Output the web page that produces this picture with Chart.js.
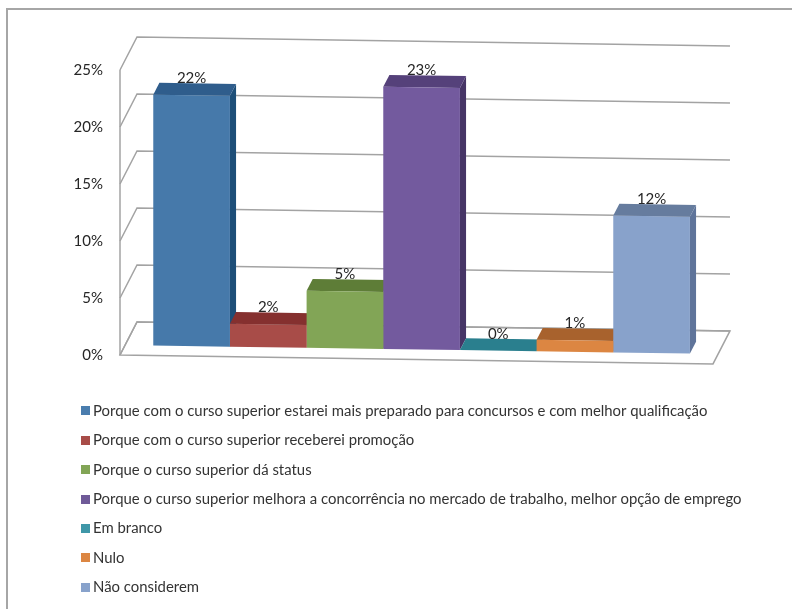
<!DOCTYPE html>
<html>
<head>
<meta charset="utf-8">
<script src="https://cdn.jsdelivr.net/npm/chart.js@4"></script>
<style>
  html, body { margin: 0; padding: 0; background: #fff; }
  #wrap { width: 792px; height: 609px; }
</style>
</head>
<body>
<div id="wrap"><canvas id="chart"></canvas></div>
<script>
// Valeurs
const categories = ['Motivo'];
const seriesNames = [
  'Porque com o curso superior estarei mais preparado para concursos e com melhor qualificação',
  'Porque com o curso superior receberei promoção',
  'Porque o curso superior dá status',
  'Porque o curso superior melhora a concorrência no mercado de trabalho, melhor opção de emprego',
  'Em branco',
  'Nulo',
  'Não considerem',
];
const seriesValues = [22, 2, 5, 23, 0, 1, 12];
const tickMax = 25;
const tickStep = 5;

const frontColors = ['#4679aa', '#a84c48', '#82a556', '#735a9e', '#2f8496', '#dc8642', '#88a2cb'];
const topColors   = ['#2f5d8c', '#85302f', '#5e7d37', '#55417a', '#2a7f8e', '#a8622d', '#667c9e'];
const sideColors  = ['#1d4e78', '#7a2c2a', '#55712f', '#463566', '#236e7c', '#965726', '#5f749a'];
const legendColors = ['#4a7dae', '#a84c48', '#82a556', '#6f5a98', '#3f97a8', '#dc8642', '#88a2cb'];

// Projection du faux 3D
const SLOPE = 0.015;
const DEPTH_X = 17, DEPTH_Y = -33;
const BAR_T = 0.3, BAR_DEPTH = 0.36;
const WALL = '#a3a3a3';

function project(area, x, y, t) {
  return [x + t * DEPTH_X, y + SLOPE * (x - area.left) + t * DEPTH_Y];
}

function poly(ctx, pts, fill) {
  ctx.beginPath();
  pts.forEach((p, i) => (i ? ctx.lineTo(p[0], p[1]) : ctx.moveTo(p[0], p[1])));
  ctx.closePath();
  ctx.fillStyle = fill;
  ctx.fill();
}

// Carré de légende : boxWidth quasi nul pour coller le texte comme sur l'original
function swatch(color) {
  const c = document.createElement('canvas');
  c.width = 9; c.height = 9;
  const g = c.getContext('2d');
  g.fillStyle = color;
  g.fillRect(0, 0, 9, 9);
  return c;
}

const walls3d = {
  id: 'walls3d',
  afterLayout(chart) {
    // la légende est posée sous le graphique, en colonne
    const lg = chart.legend;
    lg.left = 71; lg.right = 792;
    lg.top = 389; lg.bottom = 700;
    lg.adjustHitBoxes();
  },
  beforeDraw(chart) {
    const ctx = chart.ctx;
    ctx.save();
    ctx.strokeStyle = '#a6a6a6';
    ctx.lineWidth = 2;
    ctx.beginPath();
    ctx.moveTo(7, 609);
    ctx.lineTo(7, 9);
    ctx.lineTo(792, 9);
    ctx.stroke();
    ctx.restore();
  },
  beforeDatasetsDraw(chart) {
    const { ctx, chartArea: area, scales: { y } } = chart;
    ctx.save();
    ctx.lineWidth = 1.5;
    ctx.strokeStyle = WALL;
    const l = area.left, r = area.right;

    // plancher
    const y0 = y.getPixelForValue(0);
    ctx.beginPath();
    [[l, y0, 0], [l, y0, 1], [r, y0, 1], [r, y0, 0]].forEach((p, i) => {
      const q = project(area, p[0], p[1], p[2]);
      if (i) ctx.lineTo(q[0], q[1]); else ctx.moveTo(q[0], q[1]);
    });
    ctx.closePath();
    ctx.stroke();

    // montant gauche et graduations
    const yTop = y.getPixelForValue(tickMax);
    ctx.beginPath();
    ctx.moveTo(l, y0);
    ctx.lineTo(l, yTop);
    ctx.stroke();
    y.ticks.forEach((tick) => {
      const py = y.getPixelForValue(tick.value);
      const a = project(area, l, py, 1);
      const b = project(area, r, py, 1);
      ctx.beginPath();
      ctx.moveTo(l, py);
      ctx.lineTo(a[0], a[1]);
      ctx.lineTo(b[0], b[1]);
      ctx.stroke();
    });

    // faces du dessus et de côté, de gauche à droite
    const t0 = BAR_T, t1 = BAR_T + BAR_DEPTH;
    seriesValues.forEach((v, i) => {
      const bar = chart.getDatasetMeta(i).data[0];
      const x1 = bar.x - bar.width / 2, x2 = bar.x + bar.width / 2;
      const base = bar.base, py = bar.y;
      poly(ctx, [project(area, x2, py, t0), project(area, x2, py, t1), project(area, x2, base, t1), project(area, x2, base, t0)], sideColors[i]);
      poly(ctx, [project(area, x1, py, t0), project(area, x1, py, t1), project(area, x2, py, t1), project(area, x2, py, t0)], topColors[i]);
    });
    ctx.restore();

    // les faces avant sont dessinées par Chart.js dans le plan incliné
    ctx.save();
    ctx.transform(1, SLOPE, 0, 1, BAR_T * DEPTH_X, BAR_T * DEPTH_Y - SLOPE * area.left);
  },
  afterDatasetsDraw(chart) {
    const { ctx, chartArea: area } = chart;
    ctx.restore();
    ctx.save();
    ctx.font = '15px Lato';
    ctx.fillStyle = '#262626';
    ctx.textAlign = 'center';
    ctx.textBaseline = 'middle';
    seriesValues.forEach((v, i) => {
      const bar = chart.getDatasetMeta(i).data[0];
      const p = project(area, bar.x, bar.y, BAR_T);
      ctx.fillText(v + '%', p[0], p[1] - 17);
    });
    ctx.restore();
  },
};

new Chart(document.getElementById('chart'), {
  type: 'bar',
  data: {
    labels: categories,
    datasets: seriesNames.map((name, i) => ({
      label: name,
      data: [seriesValues[i]],
      backgroundColor: frontColors[i],
      borderWidth: 0,
      clip: false,
    })),
  },
  options: {
    responsive: true,
    maintainAspectRatio: false,
    animation: false,
    categoryPercentage: 0.905,
    barPercentage: 1,
    layout: { padding: { top: 70, bottom: 254, right: 79, left: 0 } },
    scales: {
      x: { display: false },
      y: {
        min: 0,
        max: tickMax,
        afterFit(scale) { scale.width = 120; },
        grid: { display: false, drawTicks: false },
        border: { display: false },
        ticks: {
          stepSize: tickStep,
          padding: 17,
          color: '#262626',
          font: { family: 'Lato', size: 15 },
          callback: (v) => v + '%',
        },
      },
    },
    plugins: {
      tooltip: { enabled: false },
      legend: {
        position: 'chartArea',
        align: 'start',
        labels: {
          usePointStyle: true,
          boxWidth: 0.1,
          boxHeight: 9,
          padding: 14.5,
          color: '#333',
          font: { family: 'Lato', size: 14.9 },
          generateLabels(chart) {
            return chart.data.datasets.map((ds, i) => ({
              text: ds.label,
              fillStyle: legendColors[i],
              strokeStyle: legendColors[i],
              pointStyle: swatch(legendColors[i]),
              lineWidth: 0,
              fontColor: '#333',
              datasetIndex: i,
            }));
          },
        },
      },
    },
  },
  plugins: [walls3d],
});
</script>
</body>
</html>
